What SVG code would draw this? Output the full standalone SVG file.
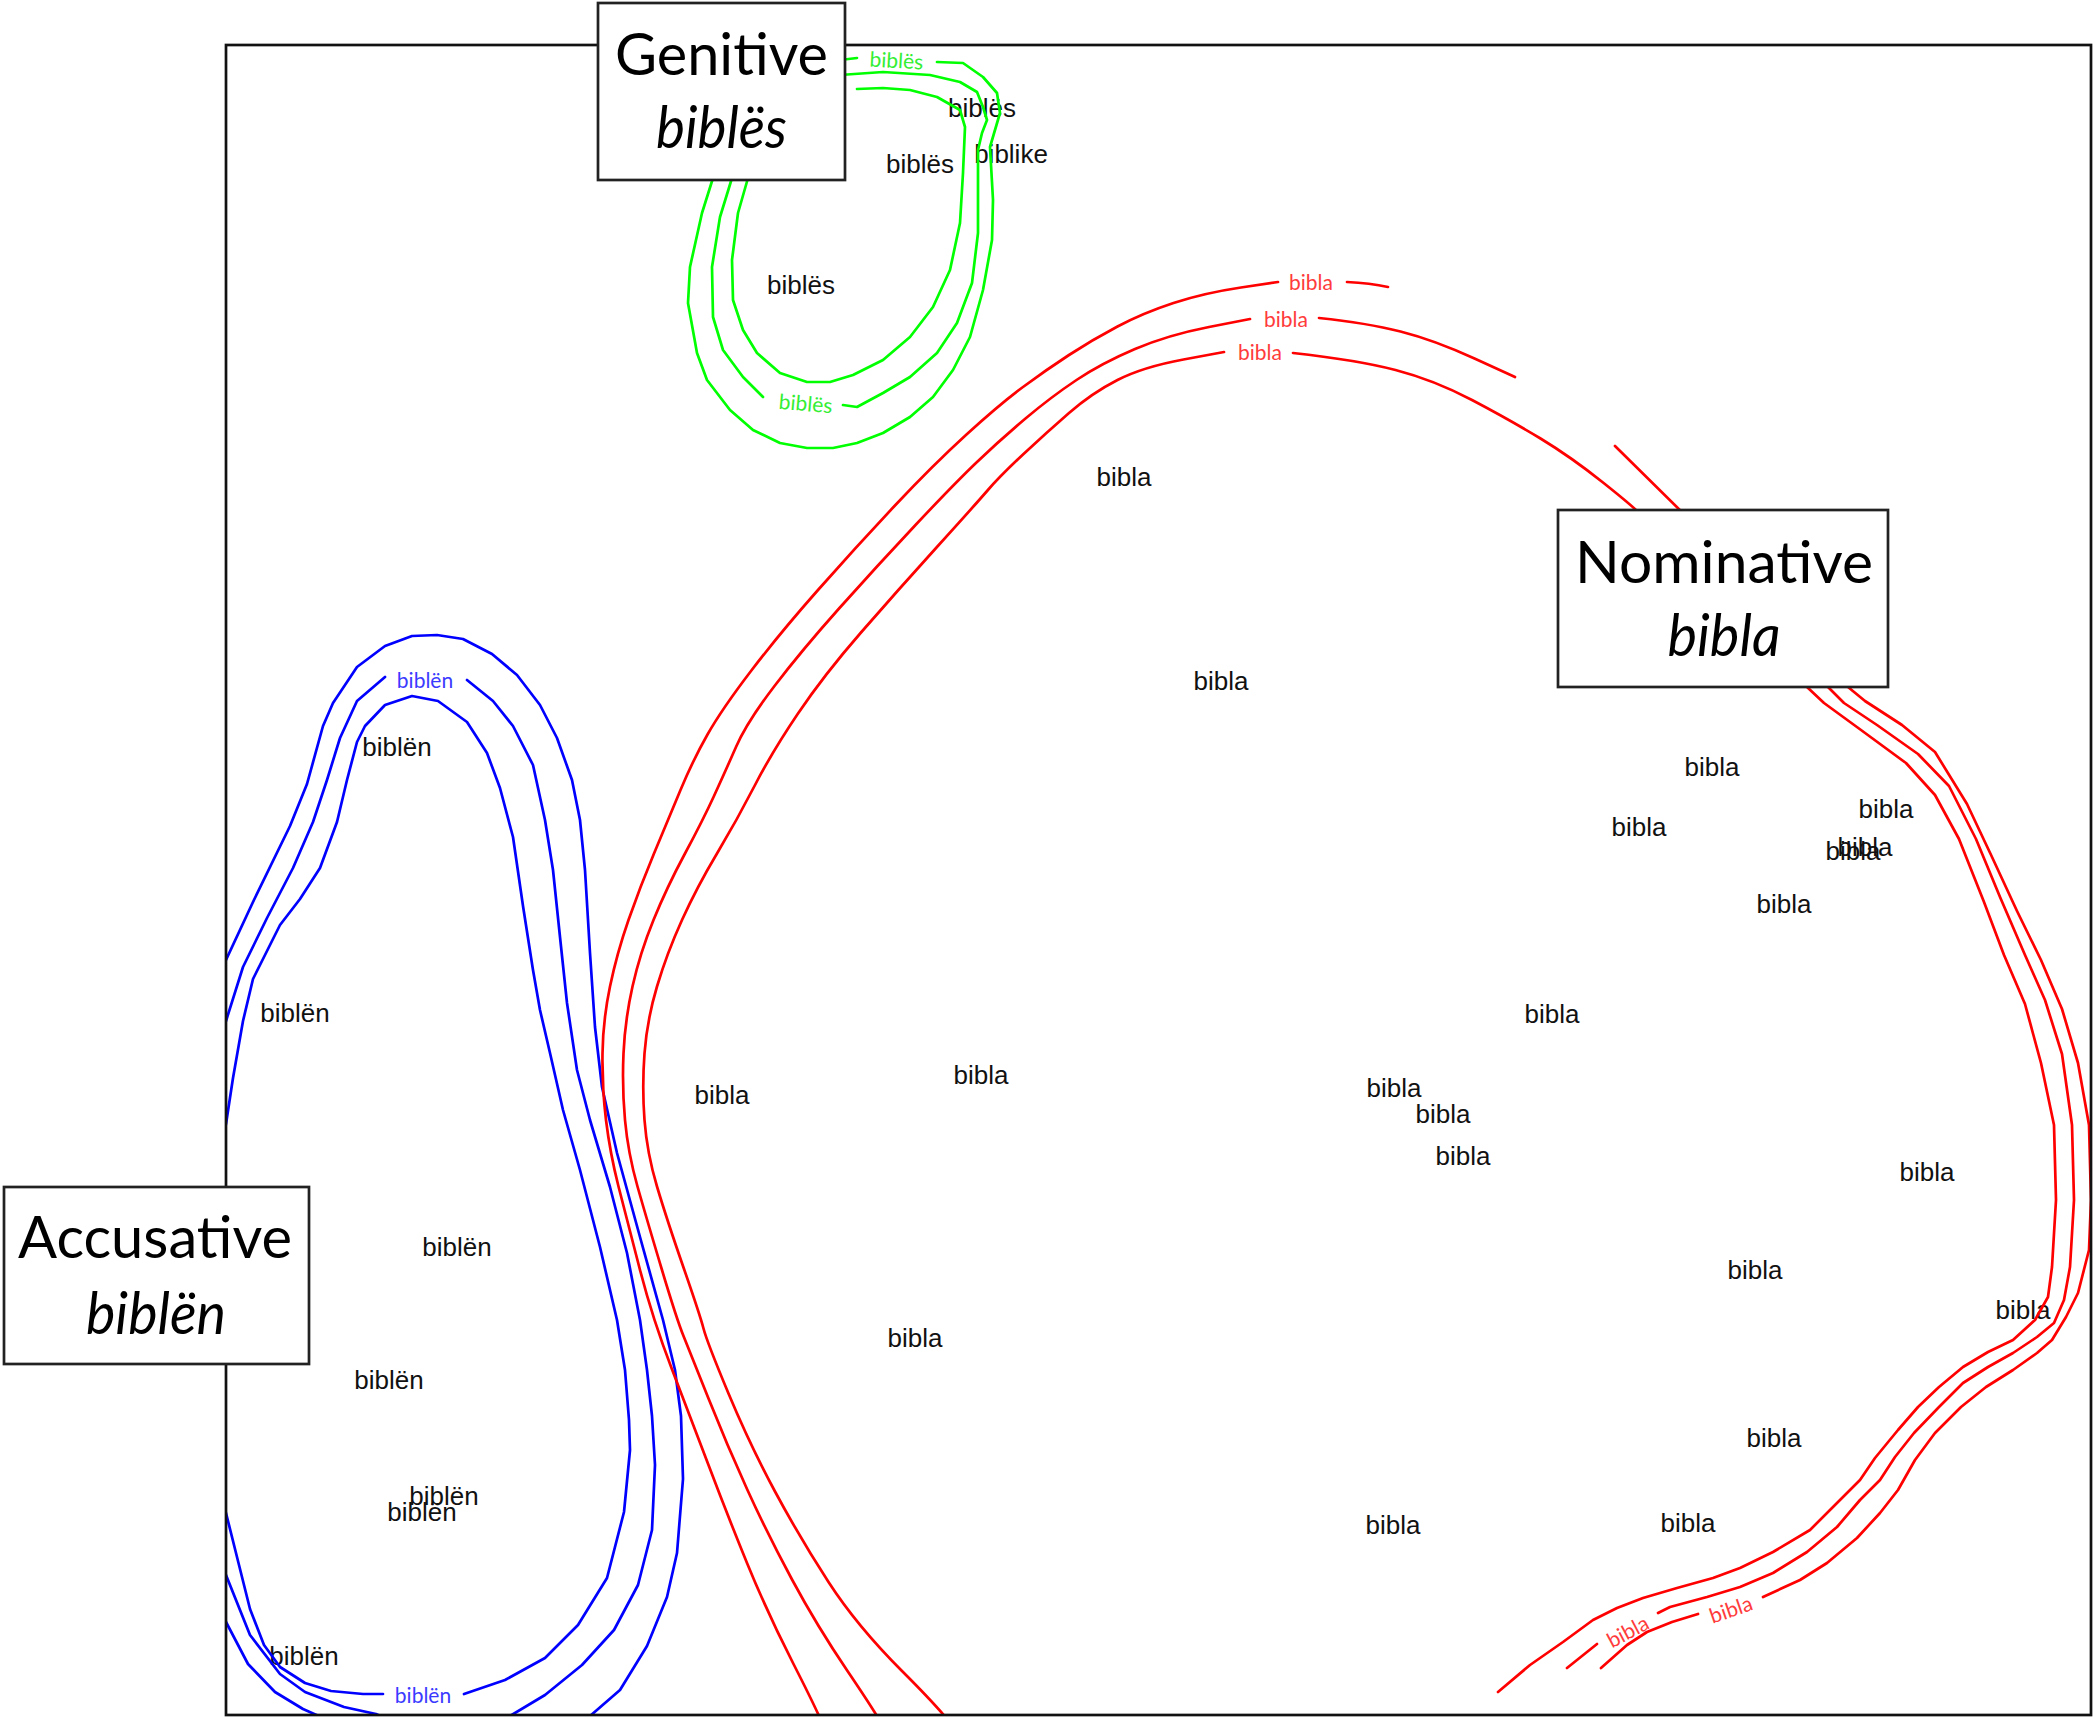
<svg xmlns="http://www.w3.org/2000/svg" width="2094" height="1717" viewBox="0 0 2094 1717">
<style>
.bg{fill:#fff}
.frame{fill:none;stroke:#111;stroke-width:2.7}
.box{fill:#fff;stroke:#222;stroke-width:2.7}
.cap{font-family:Lato,"Open Sans","Liberation Sans",sans-serif;font-size:58px;fill:#000;text-anchor:middle}
.it{font-style:italic}
.lbl{font-family:"Liberation Sans",Arial,sans-serif;font-size:26px;fill:#111;text-anchor:middle}
.wire{fill:none;stroke-width:2.7;stroke-linejoin:round;stroke-linecap:round}
.gen{stroke:#00ff00}.acc{stroke:#0000ff}.nom{stroke:#ff0000}
.tag{font-family:Lato,"Open Sans",sans-serif;font-size:21px;text-anchor:middle}
.tg{fill:#33ee33}.tb{fill:#3b3bff}.tr{fill:#ff3b3b}
</style>
<defs>
<clipPath id="fr"><rect x="226" y="45" width="1865" height="1670"/></clipPath>
</defs>
<rect class="bg" x="0" y="0" width="2094" height="1717"/>

<g id="labels">
<text class="lbl" x="982" y="117">biblës</text>
<text class="lbl" x="1011" y="163">biblike</text>
<text class="lbl" x="920" y="173">biblës</text>
<text class="lbl" x="801" y="294">biblës</text>
<text class="lbl" x="1124" y="486">bibla</text>
<text class="lbl" x="1221" y="690">bibla</text>
<text class="lbl" x="1712" y="776">bibla</text>
<text class="lbl" x="1639" y="836">bibla</text>
<text class="lbl" x="1886" y="818">bibla</text>
<text class="lbl" x="1865" y="856">bibla</text>
<text class="lbl" x="1853" y="860">bibla</text>
<text class="lbl" x="1784" y="913">bibla</text>
<text class="lbl" x="1552" y="1023">bibla</text>
<text class="lbl" x="722" y="1104">bibla</text>
<text class="lbl" x="981" y="1084">bibla</text>
<text class="lbl" x="1394" y="1097">bibla</text>
<text class="lbl" x="1443" y="1123">bibla</text>
<text class="lbl" x="1463" y="1165">bibla</text>
<text class="lbl" x="1927" y="1181">bibla</text>
<text class="lbl" x="1755" y="1279">bibla</text>
<text class="lbl" x="2023" y="1319">bibla</text>
<text class="lbl" x="915" y="1347">bibla</text>
<text class="lbl" x="1774" y="1447">bibla</text>
<text class="lbl" x="1688" y="1532">bibla</text>
<text class="lbl" x="1393" y="1534">bibla</text>
<text class="lbl" x="397" y="756">biblën</text>
<text class="lbl" x="295" y="1022">biblën</text>
<text class="lbl" x="457" y="1256">biblën</text>
<text class="lbl" x="389" y="1389">biblën</text>
<text class="lbl" x="444" y="1505">biblën</text>
<text class="lbl" x="422" y="1521">biblën</text>
<text class="lbl" x="304" y="1665">biblën</text>
</g>

<g id="connectors" clip-path="url(#fr)">
<g id="genitive-bands">
<path class="wire gen" d="M713,178 L702,213 L690,267 L688,303 L697,353 L707,380 L730,410 L753,430 L780,443 L807,448 L833,448 L857,443 L883,433 L910,417 L933,397 L953,370 L970,337 L983,290 L992,240 L993,200 L990,147 L995,130 L1000,113 L997,93 L983,77 L963,63 L937,62 M857,58 L840,60"/>
<path class="wire gen" d="M732,178 L720,217 L712,267 L713,317 L723,350 L743,377 L763,397 M843,405 L857,407 L883,393 L910,377 L937,353 L957,323 L972,283 L978,233 L978,173 L978,150 L982,133 L987,120 L983,107 L977,92 L960,82 L930,75 L883,72 L840,75"/>
<path class="wire gen" d="M748,178 L738,213 L732,260 L733,300 L743,330 L757,353 L780,373 L807,382 L830,382 L853,375 L883,360 L910,337 L933,307 L950,270 L960,223 L963,173 L965,127 L960,110 L937,97 L910,90 L883,88 L857,89"/>
<text class="tag tg" transform="translate(896,68) rotate(3)">biblës</text>
<text class="tag tg" transform="translate(805,411) rotate(5)">biblës</text>
</g>
<g id="accusative-bands">
<path class="wire acc" d="M212,990 L226,960 L253,902 L290,826 L307,784 L323,726 L333,703 L357,667 L385,646 L412,636 L437,635 L463,639 L492,654 L517,675 L540,705 L557,738 L572,780 L580,820 L585,870 L590,953 L595,1027 L602,1087 L617,1153 L640,1237 L663,1320 L675,1370 L681,1416 L683,1479 L677,1553 L667,1597 L647,1646 L620,1690 L590,1716 L560,1735 L350,1735 L321,1717 L303,1709 L275,1692 L248,1664 L226,1622 L215,1595"/>
<path class="wire acc" d="M212,1060 L226,1021 L243,967 L267,918 L293,868 L313,822 L327,780 L340,738 L357,701 L385,677 M467,680 L493,701 L513,726 L533,765 L545,820 L553,870 L560,937 L567,1003 L577,1070 L590,1120 L610,1187 L627,1253 L640,1320 L647,1370 L652,1416 L655,1465 L652,1530 L638,1585 L614,1630 L582,1665 L545,1695 L510,1716 L470,1730 L400,1725 L376,1714 L344,1707 L305,1692 L280,1674 L250,1635 L226,1575 L215,1550"/>
<path class="wire acc" d="M215,1170 L226,1124 L233,1078 L243,1021 L253,979 L280,925 L300,899 L320,868 L337,822 L347,780 L357,742 L365,726 L385,705 L412,696 L438,701 L467,722 L487,753 L500,788 L513,837 L523,906 L533,970 L540,1010 L550,1053 L563,1110 L580,1170 L600,1247 L617,1320 L625,1370 L629,1420 L630,1450 L624,1512 L607,1578 L578,1625 L545,1658 L505,1680 L464,1694 M383,1694 L363,1694 L331,1691 L305,1683 L280,1667 L264,1645 L250,1609 L239,1565 L226,1513 L220,1490"/>
<text class="tag tb" x="425" y="688">biblën</text>
<text class="tag tb" x="423" y="1703">biblën</text>
</g>
<g id="nominative-bands">
<path class="wire nom" d="M825,1730 Q820,1716 793.5,1664 Q767,1612 747,1563 Q727,1514 708.5,1465 Q690,1416 671.5,1368 Q653,1320 640,1270 Q627,1220 618.5,1186.5 Q610,1153 606,1120 Q602,1087 602.5,1053.5 Q603,1020 610,986.5 Q617,953 628.5,920 Q640,887 654,853.5 Q668,820 680.5,790 Q693,760 707.5,734.5 Q722,709 751,671 Q780,633 818,590 Q856,547 894.5,506 Q933,465 966.5,434.5 Q1000,404 1023,387 Q1046,370 1069,355 Q1092,340 1117.5,326.5 Q1143,313 1173.5,303 Q1204,293 1241,287.5 L1278,282 M1347,282 Q1370,283 1388,287"/>
<path class="wire nom" d="M885,1730 Q878,1716 847.5,1671 Q817,1626 792,1579.5 Q767,1533 747,1489 Q727,1445 708.5,1398.5 Q690,1352 683.5,1336 Q677,1320 662,1270 Q647,1220 637.5,1186.5 Q628,1153 625,1120 Q622,1087 623.5,1053.5 Q625,1020 632.5,986.5 Q640,953 653.5,920 Q667,887 685,853.5 Q703,820 714,796 Q725,772 736,747 Q747,722 774.5,686 Q802,650 839.5,608 Q877,566 915.5,525 Q954,484 977,462 Q1000,440 1025.5,418.5 Q1051,397 1076.5,380 Q1102,363 1135,349 Q1168,335 1209,327 L1250,319 M1319,318 Q1367,323 1400.5,331.5 Q1434,340 1474.5,358.5 L1515,377 M1615,446 L1690,520"/>
<path class="wire nom" d="M955,1730 Q947,1716 902,1671 Q857,1626 828.5,1582 Q800,1538 775,1491.5 Q750,1445 728.5,1393.5 Q707,1342 703.5,1328.5 Q700,1315 683.5,1267.5 Q667,1220 657,1186.5 Q647,1153 644.5,1120 Q642,1087 644.5,1053.5 Q647,1020 657,986.5 Q667,953 682,920 Q697,887 717,853.5 Q737,820 754.5,786 Q772,752 798,713.5 Q824,675 861,632.5 Q898,590 936.5,547.5 Q975,505 987.5,490.5 Q1000,476 1023,454.5 Q1046,433 1069,413 Q1092,393 1117.5,380 Q1143,367 1183.5,359.5 L1224,352 M1293,353 Q1357,360 1395.5,370 Q1434,380 1472,400 Q1510,420 1540.5,438.5 Q1571,457 1603,482.5 Q1635,508 1640,514 L1645,520"/>
<path class="wire nom" d="M1800,680 L1807,687 L1824,703 L1861,730 L1906,763 L1935,795 L1959,839 L1984,902 L2004,955 L2025,1004 L2041,1063 L2054,1125 L2056,1200 L2052,1267 L2048,1297 L2035,1320 L2013,1340 L1988,1352 L1963,1367 L1939,1387 L1918,1407 L1898,1430 L1875,1458 L1860,1480 L1840,1500 L1810,1530 L1773,1552 L1740,1568 L1713,1578 L1677,1588 L1643,1598 L1617,1608 L1593,1620 L1563,1642 L1530,1665 L1498,1692"/>
<path class="wire nom" d="M1822,680 L1828,687 L1844,703 L1877,725 L1918,754 L1949,786 L1976,839 L2000,897 L2025,955 L2045,1000 L2062,1054 L2072,1125 L2074,1200 L2070,1267 L2064,1300 L2054,1323 L2037,1337 L2013,1353 L1988,1367 L1963,1383 L1939,1407 L1914,1433 L1895,1457 L1880,1480 L1860,1500 L1837,1527 L1807,1552 L1773,1573 L1740,1587 L1707,1597 L1670,1607 L1658,1613 M1597,1644 L1567,1668"/>
<path class="wire nom" d="M1842,680 L1848,687 L1865,701 L1902,725 L1935,752 L1967,804 L1992,857 L2017,911 L2041,960 L2062,1009 L2078,1063 L2089,1125 L2091,1200 L2089,1250 L2078,1293 L2066,1317 L2052,1340 L2037,1353 L2013,1370 L1986,1387 L1961,1407 L1935,1433 L1915,1460 L1898,1490 L1880,1513 L1857,1538 L1827,1563 L1800,1580 L1763,1597 M1698,1614 L1672,1622 L1647,1632 L1627,1645 L1601,1668"/>
<text class="tag tr" x="1311" y="290">bibla</text>
<text class="tag tr" x="1286" y="327">bibla</text>
<text class="tag tr" x="1260" y="360">bibla</text>
<text class="tag tr" transform="translate(1628,1632) rotate(-28) translate(0,7)">bibla</text>
<text class="tag tr" transform="translate(1731,1610) rotate(-19) translate(0,7)">bibla</text>
</g>
</g>

<rect id="frame" class="frame" x="226" y="45" width="1865" height="1670"/>

<g id="node-genitive">
<rect class="box" x="598" y="3" width="247" height="177"/>
<text class="cap" x="721.5" y="75" textLength="213" lengthAdjust="spacingAndGlyphs">Genitive</text>
<text class="cap it" x="721.5" y="148" textLength="131" lengthAdjust="spacingAndGlyphs">biblës</text>
</g>
<g id="node-nominative">
<rect class="box" x="1558" y="510" width="330" height="177"/>
<text class="cap" x="1724" y="583" textLength="298" lengthAdjust="spacingAndGlyphs">Nominative</text>
<text class="cap it" x="1724" y="656" textLength="113" lengthAdjust="spacingAndGlyphs">bibla</text>
</g>
<g id="node-accusative">
<rect class="box" x="4" y="1187" width="305" height="177"/>
<text class="cap" x="155" y="1258" textLength="274" lengthAdjust="spacingAndGlyphs">Accusative</text>
<text class="cap it" x="156" y="1334" textLength="140" lengthAdjust="spacingAndGlyphs">biblën</text>
</g>
</svg>
